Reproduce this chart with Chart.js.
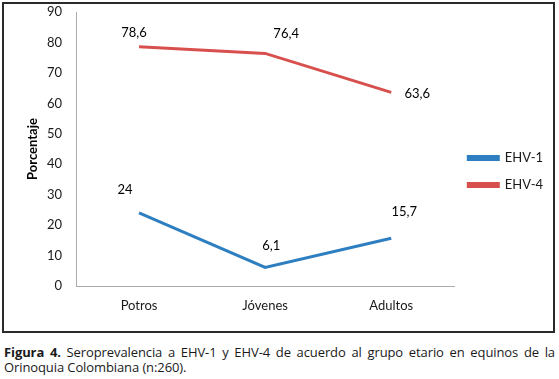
<!DOCTYPE html>
<html>
<head>
<meta charset="utf-8">
<script src="https://cdn.jsdelivr.net/npm/chart.js@4.4.1/dist/chart.umd.min.js"></script>
<style>
  html, body { margin: 0; padding: 0; background: #fff; }
  body { width: 559px; height: 379px; position: relative; overflow: hidden; }
  #box { position: absolute; left: 2px; top: 2px; width: 553px; height: 331px; box-sizing: border-box; border: 2px solid #2a2a2a; }
  #box canvas { position: absolute; left: 0; top: 0; }
  #caption { position: absolute; left: 4px; top: 345px; width: 551px; font-family: "Open Sans", "Liberation Sans", sans-serif; font-size: 13px; line-height: 15px; color: #1a1a1a; text-align: justify; text-align-last: left; letter-spacing: -0.1px; }
  #caption b { font-weight: 700; }
</style>
</head>
<body>
<div id="box"><canvas id="c" width="549" height="327"></canvas></div>
<div id="caption"><b>Figura 4.</b> Seroprevalencia a EHV-1 y EHV-4 de acuerdo al grupo etario en equinos de la Orinoquia Colombiana (n:260).</div>
<script>
const categories = ["Potros", "Jóvenes", "Adultos"];
const ehv1 = [24, 6.1, 15.7];
const ehv4 = [78.6, 76.4, 63.6];
const seriesNames = ["EHV-1", "EHV-4"];
const yTicks = [0, 10, 20, 30, 40, 50, 60, 70, 80, 90];

const FONT = "Lato, 'Open Sans', sans-serif";

const labelPlugin = {
  id: 'pointLabels',
  afterDatasetsDraw(chart, args, opts) {
    const ctx = chart.ctx;
    ctx.save();
    ctx.font = "13px " + FONT;
    ctx.fillStyle = "#000";
    ctx.textAlign = "center";
    ctx.textBaseline = "middle";
    chart.data.datasets.forEach((ds, i) => {
      const meta = chart.getDatasetMeta(i);
      meta.data.forEach((pt, j) => {
        const off = opts.offsets[i][j];
        const txt = String(ds.data[j]).replace('.', ',');
        ctx.fillText(txt, pt.x + off[0], pt.y + off[1]);
      });
    });
    ctx.restore();
  }
};

new Chart(document.getElementById('c'), {
  type: 'line',
  data: {
    labels: categories,
    datasets: [
      { label: seriesNames[0], data: ehv1, borderColor: '#2E7FC1', backgroundColor: '#2E7FC1', borderWidth: 3, pointRadius: 0, tension: 0 },
      { label: seriesNames[1], data: ehv4, borderColor: '#D8504D', backgroundColor: '#D8504D', borderWidth: 3, pointRadius: 0, tension: 0 }
    ]
  },
  options: {
    responsive: false,
    animation: false,
    devicePixelRatio: 1,
    layout: { padding: { top: 8, right: 0, left: 0, bottom: 0 } },
    scales: {
      x: {
        offset: true,
        grid: { display: false, drawTicks: false },
        border: { color: '#ababab', width: 1 },
        ticks: { padding: 12, color: '#1a1a1a', font: { family: FONT, size: 13 } },
        afterFit: (s) => { s.height = 45; }
      },
      y: {
        min: 0, max: 90,
        afterBuildTicks: (s) => { s.ticks = yTicks.map(v => ({ value: v })); },
        grid: { display: false, drawTicks: false },
        border: { color: '#ababab', width: 1 },
        ticks: { padding: 14, color: '#1a1a1a', font: { family: FONT, size: 13 } },
        title: { display: true, text: 'Porcentaje', color: '#000', font: { family: FONT, size: 13, weight: 'bold' }, padding: { top: 21, bottom: 0 } },
        afterFit: (s) => { s.width = 72; s.paddingTop = 0; s.paddingBottom = 0; }
      }
    },
    plugins: {
      legend: {
        position: 'right',
        labels: { boxWidth: 30, boxHeight: 3, padding: 14, color: '#1a1a1a', font: { family: FONT, size: 13 } }
      },
      tooltip: { enabled: false },
      pointLabels: {
        offsets: [
          [[-14, -23], [6, -22], [13, -26]],
          [[-5, -14], [21, -20], [26, 1]]
        ]
      }
    }
  },
  plugins: [labelPlugin]
});
</script>
</body>
</html>
